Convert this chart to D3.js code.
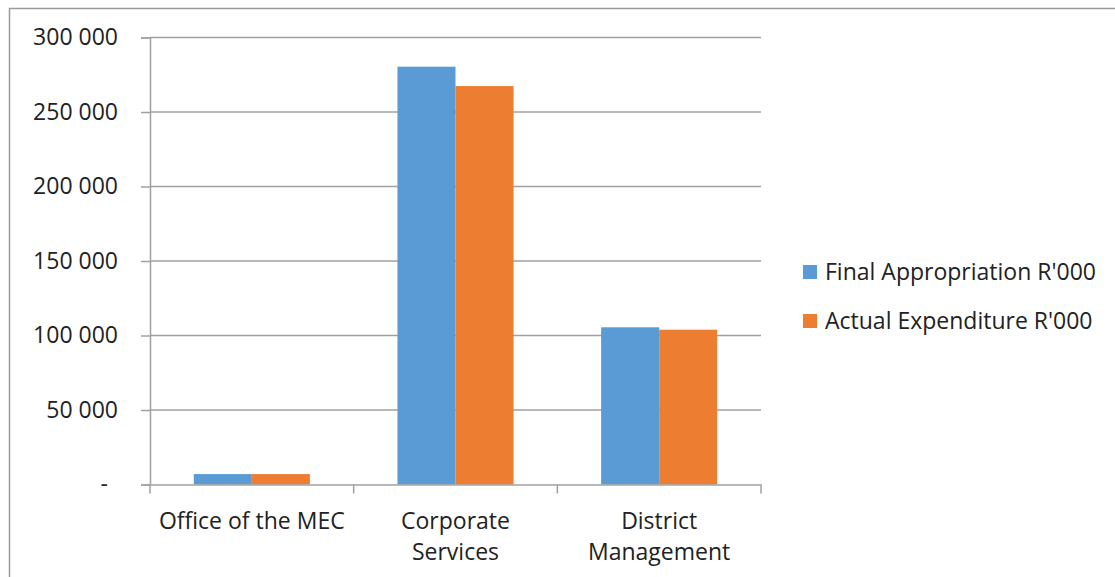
<!DOCTYPE html>
<html>
<head>
<meta charset="utf-8">
<script src="https://cdn.jsdelivr.net/npm/d3@7"></script>
<style>
  html, body { margin: 0; padding: 0; background: #fff; }
  svg { display: block; }
  text { font-family: "Open Sans", "Noto Sans", sans-serif; fill: #222; }
</style>
</head>
<body>
<script>
// Programme budget: final appropriation vs actual expenditure (R'000)
const categories = [["Office of the MEC"], ["Corporate", "Services"], ["District", "Management"]];
const seriesNames = ["Final Appropriation R'000", "Actual Expenditure R'000"];
const finalAppropriation = [7000, 280400, 105500];
const actualExpenditure = [7000, 267400, 103900];
const tickValues = [0, 50000, 100000, 150000, 200000, 250000, 300000];
const tickLabels = ["-", "50 000", "100 000", "150 000", "200 000", "250 000", "300 000"];
const colors = ["#5B9BD5", "#ED7D31"];

const W = 1115, H = 577;
const svg = d3.select("body").append("svg").attr("width", W).attr("height", H);

// outer chart frame
svg.append("rect").attr("x", 9.5).attr("y", 8.5).attr("width", W + 10).attr("height", H + 10)
  .attr("fill", "none").attr("stroke", "#9a9a9a").attr("stroke-width", 1.5);

const plot = { left: 150, right: 761, top: 37.5, bottom: 484.5 };

const catKeys = categories.map(c => c.join(" "));
const x = d3.scaleBand().domain(catKeys).range([plot.left, plot.right]).padding(0);
const inner = d3.scaleBand().domain(seriesNames)
  .range([x.bandwidth() * 0.215, x.bandwidth() * 0.785]).padding(0);
const y = d3.scaleLinear().domain([0, 300000]).range([plot.bottom, plot.top]);

// horizontal gridlines
svg.append("g").selectAll("line").data(tickValues.slice(1)).join("line")
  .attr("x1", plot.left).attr("x2", plot.right)
  .attr("y1", d => y(d)).attr("y2", d => y(d))
  .attr("stroke", "#a0a0a0").attr("stroke-width", 1.5);

// bars
const rows = catKeys.map((k, i) => ({ key: k, values: [finalAppropriation[i], actualExpenditure[i]] }));
const groups = svg.append("g").selectAll("g").data(rows).join("g")
  .attr("transform", d => `translate(${x(d.key)},0)`);
groups.selectAll("rect").data(d => d.values.map((v, j) => ({ name: seriesNames[j], v, j })))
  .join("rect")
  .attr("x", d => inner(d.name))
  .attr("width", inner.bandwidth())
  .attr("y", d => y(d.v))
  .attr("height", d => y(0) - y(d.v))
  .attr("fill", d => colors[d.j]);

// y axis
const yAxis = d3.axisLeft(y).tickValues(tickValues)
  .tickFormat((d, i) => tickLabels[i]).tickSize(9).tickPadding(23);
const gy = svg.append("g").attr("transform", `translate(${plot.left},0)`).call(yAxis);
gy.select(".domain").attr("stroke", "#a0a0a0").attr("stroke-width", 1.5);
gy.selectAll(".tick line").attr("stroke", "#a0a0a0").attr("stroke-width", 1.5);
gy.selectAll(".tick text").style("font-size", "23px").attr("fill", "#222")
  .attr("dx", (d, i) => i === 0 ? -10 : 0);

// x axis (category boundaries)
const xAxis = d3.axisBottom(x).tickSize(0).tickFormat("");
const gx = svg.append("g").attr("transform", `translate(0,${plot.bottom})`).call(xAxis);
gx.select(".domain").attr("stroke", "#a0a0a0").attr("stroke-width", 1.5);
const bounds = catKeys.map(k => x(k)).concat([x(catKeys[catKeys.length - 1]) + x.bandwidth()]);
gx.selectAll(".bound").data(bounds).join("line").attr("class", "bound")
  .attr("x1", d => d).attr("x2", d => d).attr("y1", 0).attr("y2", 9)
  .attr("stroke", "#a0a0a0").attr("stroke-width", 1.5);

// category labels
const labels = svg.append("g").selectAll("text").data(categories).join("text")
  .attr("x", (d, i) => x(catKeys[i]) + x.bandwidth() / 2)
  .attr("y", 529)
  .attr("text-anchor", "middle")
  .style("font-size", "23px");
labels.selectAll("tspan").data(d => d).join("tspan")
  .attr("x", function () { return this.parentNode.getAttribute("x"); })
  .attr("dy", (d, i) => i === 0 ? 0 : 31)
  .text(d => d);

// legend
const legend = svg.append("g").selectAll("g").data(seriesNames).join("g")
  .attr("transform", (d, i) => `translate(803,${272 + i * 49})`);
legend.append("rect").attr("x", 0).attr("y", -7).attr("width", 14).attr("height", 14)
  .attr("fill", (d, i) => colors[i]);
legend.append("text").attr("x", 22).attr("y", 0).attr("dy", "0.35em")
  .style("font-size", "23px").text(d => d);
</script>
</body>
</html>
